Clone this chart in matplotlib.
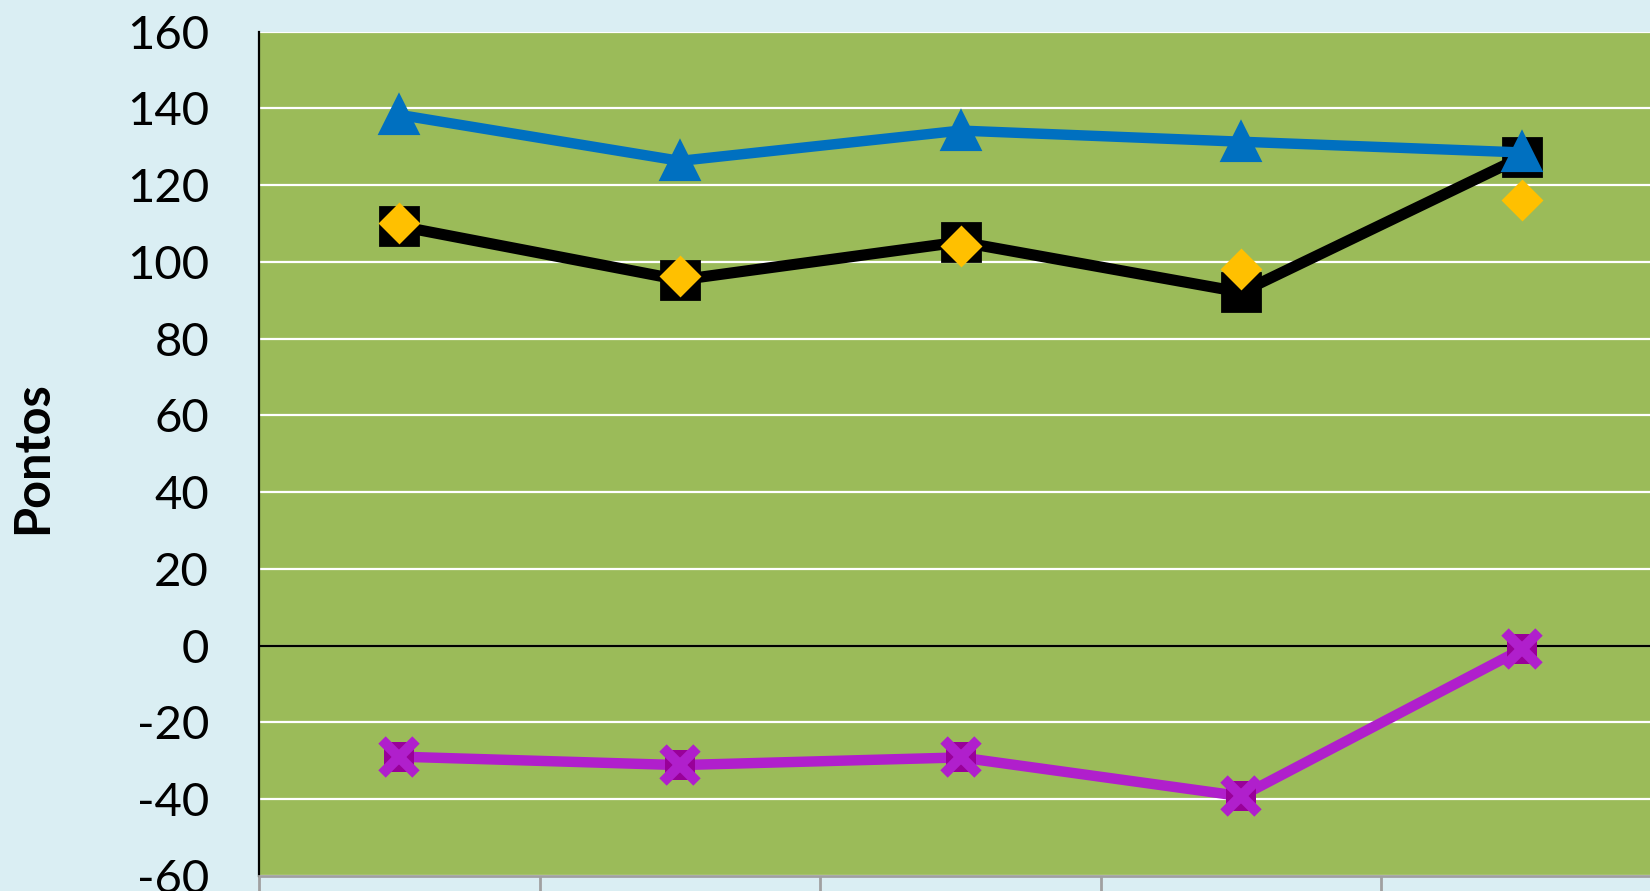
import numpy as np
import matplotlib
matplotlib.use("Agg")
import matplotlib.pyplot as plt

# values (5 categories, labels are cut off)
categories = [0, 1, 2, 3, 4]
blue_vals = [138.3, 126.3, 134.2, 131.3, 128.5]
black_vals = [109.3, 95.3, 105.2, 92.1, 127.3]
yellow_vals = [110.1, 96.3, 104.2, 98.2, 116.2]
purple_vals = [-28.9, -31.1, -29.1, -39.2, -0.9]
yticks = [-60, -40, -20, 0, 20, 40, 60, 80, 100, 120, 140, 160]

plt.rcParams['font.family'] = ['Lato', 'DejaVu Sans']
plt.rcParams['axes.unicode_minus'] = False

fig = plt.figure(figsize=(16.5, 8.91), dpi=100)
fig.patch.set_facecolor("#DAEEF3")
ax = fig.add_axes([0.157, 0.0168, 0.8503, 0.9478])
ax.set_facecolor("#9BBB59")

x = np.array(categories)

# white gridlines, black zero line
for t in yticks:
    ax.axhline(t, color="white", lw=1.6, zorder=1)
ax.axhline(0, color="black", lw=1.6, zorder=2)

# black series with squares
ax.plot(x, black_vals, color="black", lw=8, marker="s", ms=27,
        mec="black", mew=2, solid_joinstyle="round", zorder=3)
# yellow diamonds (markers only)
ax.plot(x, yellow_vals, ls="none", marker="D", ms=19, color="#FFC000",
        mec="#FFC000", mew=2, zorder=4)
# blue series with triangles
ax.plot(x, blue_vals, color="#0070C0", lw=7.5, marker="^", ms=26,
        mec="#0070C0", mew=3, zorder=5)
# purple series: dark square under an x
ax.plot(x, purple_vals, color="#B01FCC", lw=7.5, zorder=3)
ax.plot(x, purple_vals, ls="none", marker="s", ms=21, color="#990099",
        mec="#990099", mew=0, zorder=4)
ax.plot(x, purple_vals, ls="none", marker="x", ms=25, mew=7.5,
        color="#B01FCC", zorder=5)

ax.set_xlim(-0.5, 4.5)
ax.set_ylim(-60, 160)
ax.set_yticks(yticks)
ax.tick_params(axis="y", length=0, pad=36, labelsize=34)
ax.set_xticks(np.arange(-0.5, 5.0, 1.0))
ax.set_xticklabels([])
ax.tick_params(axis="x", length=20, width=2, color="#A0A0A0", direction="out")

for s in ["top", "right"]:
    ax.spines[s].set_visible(False)
ax.spines["left"].set_color("black")
ax.spines["left"].set_linewidth(1.6)
ax.spines["bottom"].set_color("#A0A0A0")
ax.spines["bottom"].set_linewidth(2)

ax.set_ylabel("Pontos", fontsize=35, fontweight="bold")
ax.yaxis.set_label_coords(-0.145, 0.495)

fig.savefig("out.png", dpi=100, facecolor=fig.get_facecolor())
